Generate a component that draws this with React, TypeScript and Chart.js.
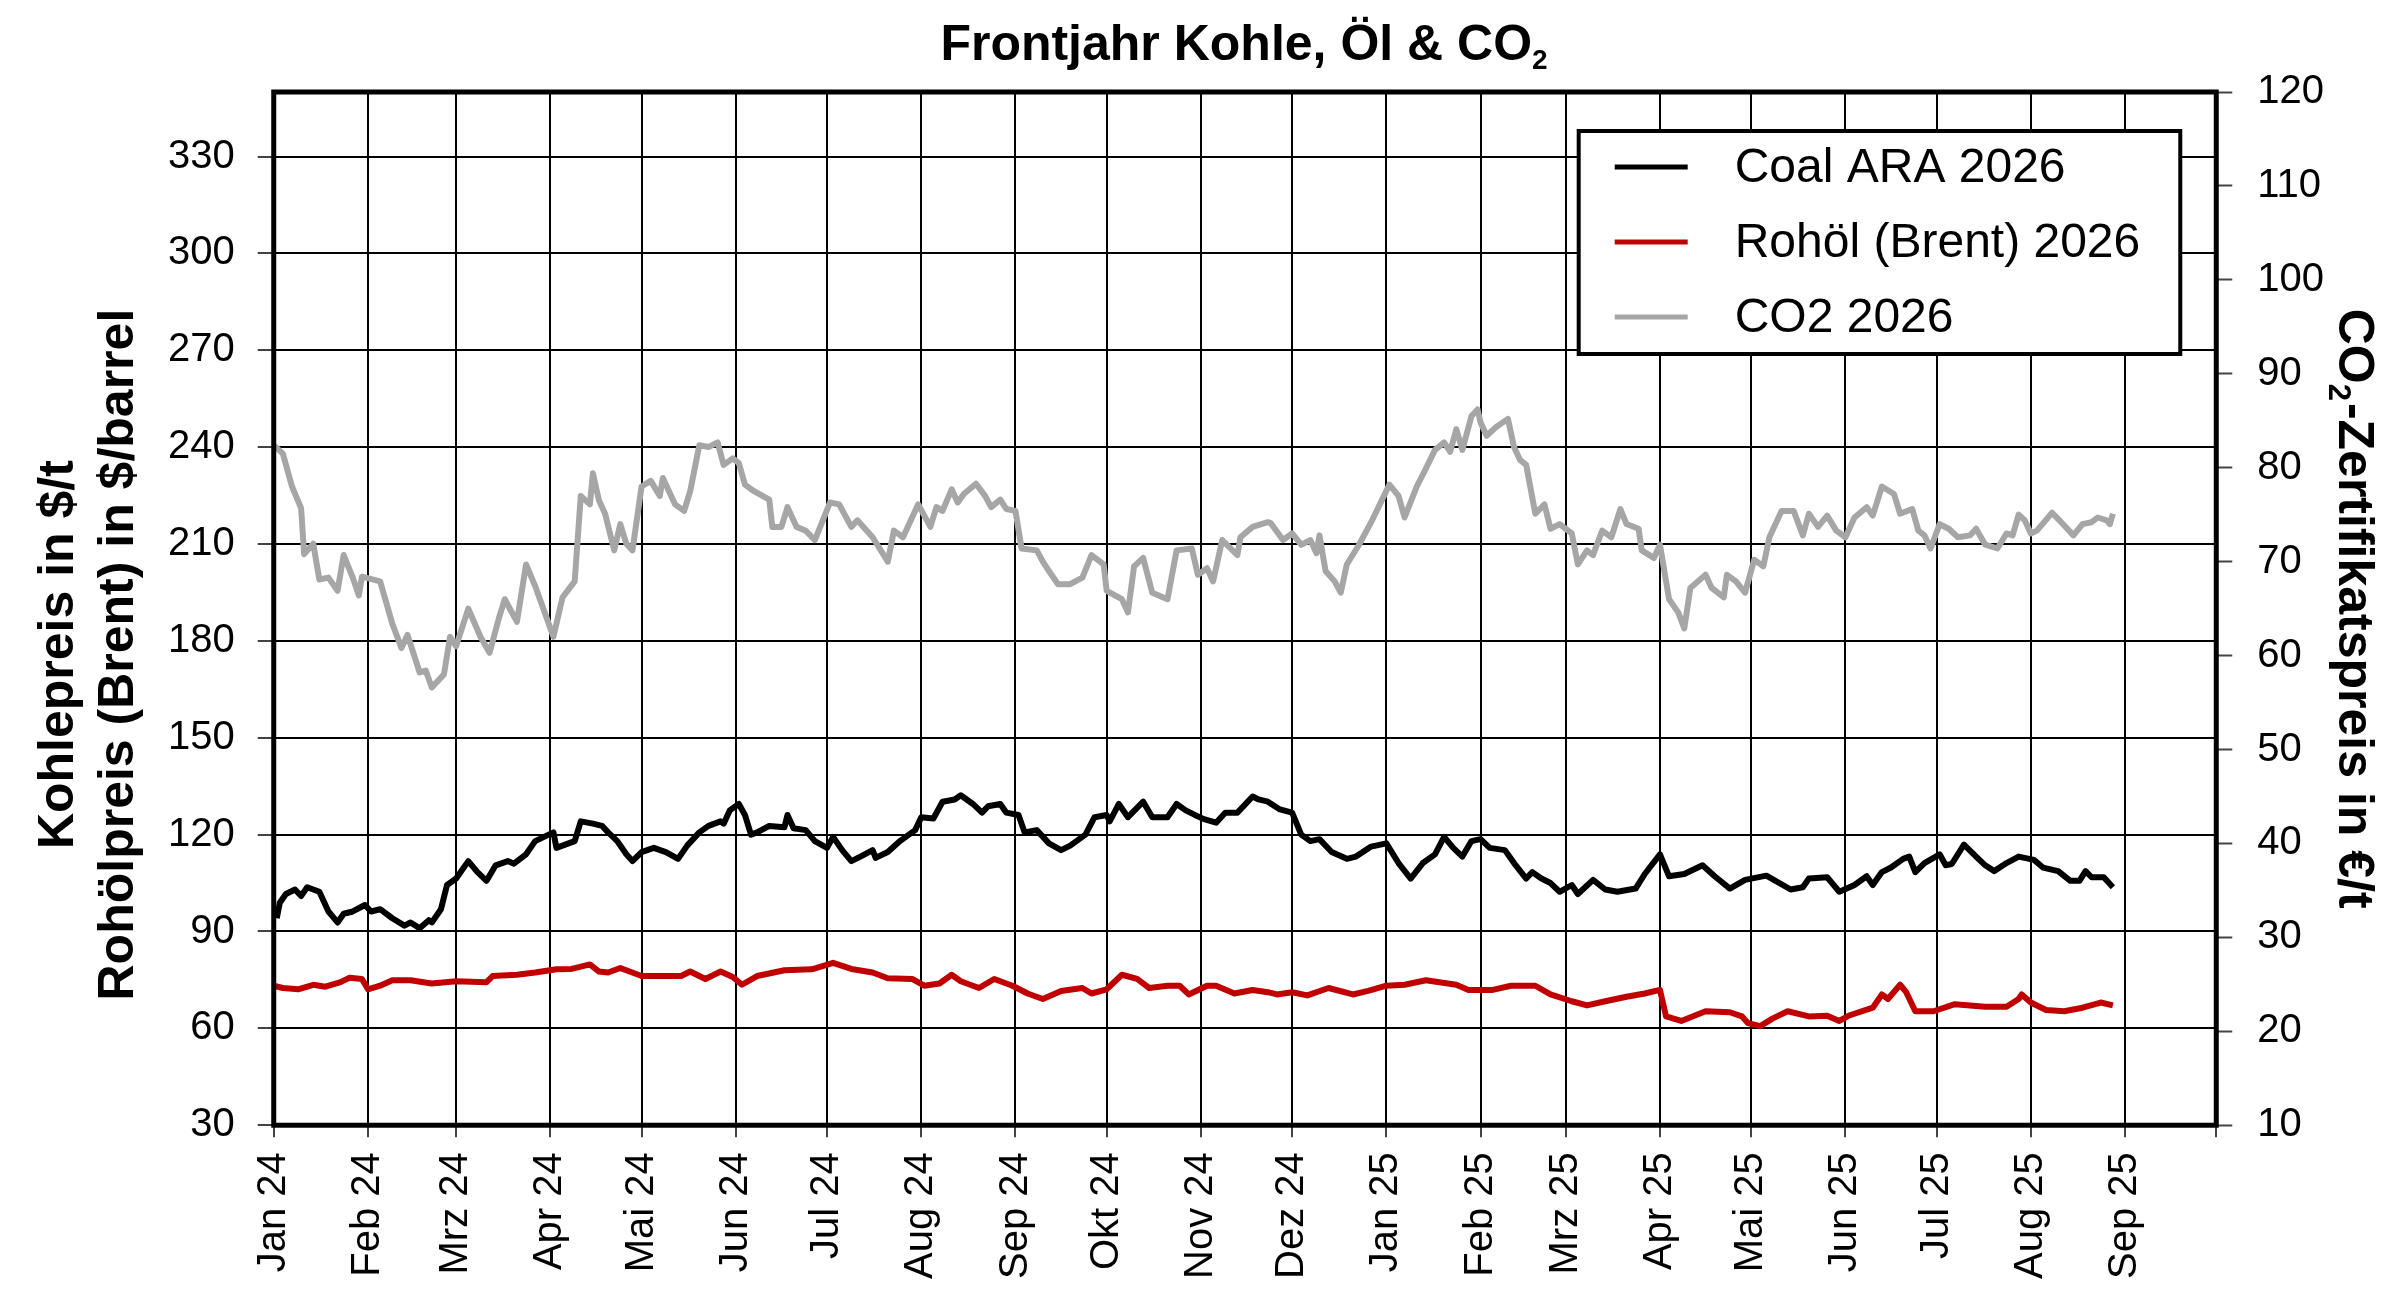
import React, { useEffect, useRef } from 'react';
import { Chart, registerables } from 'chart.js';

Chart.register(...registerables);

const FONT = '"Liberation Sans", Arial, Helvetica, sans-serif';
Chart.defaults.font.family = FONT;
Chart.defaults.color = '#000';

const chartTitle = ['Frontjahr Kohle, Öl & CO', '2'];
const leftTitle = ['Kohlepreis in $/t', 'Rohölpreis (Brent) in $/barrel'];
const rightTitle = ['CO', '2', '-Zertifikatspreis in €/t'];

// x values are days counted from 1 Jan 2024
const monthStarts = [0, 31, 60, 91, 121, 152, 182, 213, 244, 274, 305, 335, 366, 397, 425, 456, 486, 517, 547, 578, 609, 639];
const monthLabels = [
  'Jan 24', 'Feb 24', 'Mrz 24', 'Apr 24', 'Mai 24', 'Jun 24', 'Jul 24', 'Aug 24', 'Sep 24', 'Okt 24', 'Nov 24', 'Dez 24',
  'Jan 25', 'Feb 25', 'Mrz 25', 'Apr 25', 'Mai 25', 'Jun 25', 'Jul 25', 'Aug 25', 'Sep 25', '',
];
const leftTicks = [30, 60, 90, 120, 150, 180, 210, 240, 270, 300, 330];
const rightTicks = [10, 20, 30, 40, 50, 60, 70, 80, 90, 100, 110, 120];

// Coal ARA 2026, $/t
const coal: [number, number][] = [
  [1, 94.1], [2, 98.9], [4, 101.6], [7, 103], [9, 101], [11, 103.7], [15, 102.3], [18, 96.2], [21, 92.8], [23, 95.5],
  [26, 96.2], [30, 98.2], [32, 96.2], [35, 96.9], [39, 94.1], [43, 91.8], [45, 92.8], [48, 91], [51, 93.5], [52, 92.8],
  [55, 96.9], [57, 104.4], [60, 106.4], [64, 111.8], [67, 108.4], [70, 105.7], [73, 110.5], [77, 111.8], [79, 111], [83, 113.9],
  [86, 118], [92, 120.7], [93, 115.9], [99, 118], [101, 124.1], [105, 123.4], [108, 122.7], [110, 120.7], [113, 118], [116, 113.9],
  [118, 111.8], [121, 114.6], [125, 115.9], [129, 114.6], [133, 112.5], [136, 116.6], [140, 120.7], [143, 122.7], [147, 124.1], [148, 123.4],
  [150, 127.5], [153, 129.5], [155, 126.1], [157, 120], [159, 120.7], [163, 122.7], [168, 122.3], [169, 126.1], [171, 122], [175, 121.4],
  [178, 118], [182, 115.9], [184, 119.3], [187, 115.2], [190, 111.8], [193, 113.2], [197, 115.2], [198, 112.8], [202, 114.6], [206, 118],
  [211, 121.4], [213, 125.4], [217, 125], [220, 130.2], [224, 130.9], [226, 132.2], [230, 129.5], [233, 126.8], [235, 128.8], [239, 129.5],
  [241, 126.8], [245, 126.1], [247, 120.7], [251, 121.4], [255, 117.3], [259, 115.2], [262, 116.6], [267, 120], [270, 125.4], [274, 126.1],
  [275, 124.1], [278, 129.5], [281, 125.4], [286, 130.2], [289, 125.4], [294, 125.4], [297, 129.5], [300, 127.5], [303, 126.1], [306, 124.8],
  [310, 123.7], [313, 126.8], [317, 126.8], [322, 131.8], [324, 130.9], [327, 130.2], [331, 127.8], [335, 126.8], [338, 120], [341, 118],
  [344, 118.6], [348, 114.6], [353, 112.5], [356, 113.2], [361, 116.3], [366, 117.3], [370, 111.2], [374, 106.4], [378, 111.2], [382, 113.9],
  [385, 119.3], [388, 115.9], [391, 113.2], [394, 118], [397, 118.6], [400, 115.9], [405, 115.2], [408, 111.2], [412, 106.4], [414, 108.4],
  [417, 106.4], [420, 105], [423, 102.3], [427, 104.4], [429, 101.6], [434, 106], [438, 103], [442, 102.3], [448, 103.3], [451, 107.8],
  [456, 113.9], [459, 107.1], [464, 107.8], [470, 110.5], [474, 107.1], [479, 103.3], [484, 106], [491, 107.3], [499, 103], [503, 103.7],
  [505, 106.4], [511, 106.8], [515, 102.3], [520, 104.4], [524, 107.1], [526, 104.4], [529, 108.4], [532, 109.8], [536, 112.5], [538, 113.2],
  [540, 108.4], [543, 111.2], [548, 113.9], [550, 110.5], [552, 110.9], [556, 116.9], [560, 113.2], [563, 110.5], [566, 108.7], [570, 111.2],
  [574, 113.2], [579, 112.2], [582, 109.8], [587, 108.7], [591, 105.7], [594, 105.7], [596, 108.7], [598, 106.8], [602, 106.8], [605, 103.7],
];

// Rohöl (Brent) 2026, $/barrel
const brent: [number, number][] = [
  [0, 73.2], [3, 72.5], [8, 72.1], [13, 73.5], [17, 72.9], [22, 74.3], [25, 75.7], [29, 75.3], [31, 72.1], [35, 73.2],
  [39, 74.9], [45, 74.9], [52, 73.9], [60, 74.6], [70, 74.3], [72, 76.2], [80, 76.6], [86, 77.3], [93, 78.3], [98, 78.4],
  [104, 79.8], [107, 77.6], [110, 77.3], [114, 78.7], [121, 76.2], [134, 76.2], [137, 77.6], [142, 75.3], [147, 77.6], [151, 75.9],
  [154, 73.5], [159, 76.2], [168, 78], [177, 78.3], [184, 80.3], [190, 78.4], [197, 77.3], [202, 75.5], [210, 75.3], [214, 73.2],
  [219, 73.9], [223, 76.6], [226, 74.6], [232, 72.5], [237, 75.3], [243, 73.2], [248, 70.8], [253, 69.1], [259, 71.6], [266, 72.5],
  [269, 70.8], [274, 72.1], [279, 76.6], [284, 75.3], [288, 72.5], [294, 73.2], [298, 73.2], [301, 70.5], [307, 73.2], [310, 73.2],
  [316, 70.8], [322, 71.9], [327, 71.2], [330, 70.5], [335, 71.2], [340, 70.2], [347, 72.5], [355, 70.5], [360, 71.6], [366, 73.2],
  [372, 73.5], [379, 74.9], [389, 73.5], [393, 71.9], [401, 71.9], [407, 73.2], [415, 73.2], [420, 70.5], [427, 68.4], [432, 67.1],
  [438, 68.4], [445, 69.8], [451, 70.8], [456, 71.9], [458, 63.7], [463, 62.3], [471, 65.3], [479, 65], [483, 63.7], [485, 61.6],
  [489, 60.7], [493, 63], [498, 65.3], [505, 63.7], [511, 63.9], [515, 62.3], [518, 63.9], [526, 66.4], [529, 70.5], [531, 69.1],
  [535, 73.5], [537, 71.2], [540, 65.3], [546, 65.3], [553, 67.5], [558, 67.1], [563, 66.7], [570, 66.7], [574, 69.1], [575, 70.5],
  [578, 68], [583, 65.7], [589, 65.3], [595, 66.4], [601, 68], [605, 67.1],
];

// CO2 2026, €/t
const co2: [number, number][] = [
  [0, 82.4], [3, 81.5], [6, 78.0], [9, 75.7], [10, 70.8], [13, 71.9], [15, 68.1], [18, 68.3], [21, 66.9], [23, 70.7],
  [26, 68.3], [28, 66.4], [29, 68.4], [35, 67.9], [39, 63.4], [42, 60.8], [44, 62.2], [48, 58.2], [50, 58.4], [52, 56.6],
  [56, 58.0], [58, 62.0], [60, 61.0], [64, 65.0], [68, 62.0], [71, 60.3], [74, 63.9], [76, 66.0], [80, 63.6], [83, 69.7],
  [86, 67.4], [92, 62.0], [95, 66.2], [99, 67.9], [101, 77.0], [104, 76.1], [105, 79.4], [107, 76.5], [109, 75.1], [112, 71.2],
  [114, 74.0], [116, 71.9], [118, 71.2], [121, 78.0], [124, 78.6], [127, 77.0], [128, 78.9], [132, 76.1], [135, 75.4], [137, 77.5],
  [140, 82.4], [143, 82.2], [146, 82.7], [148, 80.3], [151, 81.0], [153, 80.5], [155, 78.2], [158, 77.5], [163, 76.6], [164, 73.7],
  [167, 73.7], [169, 75.8], [172, 73.7], [175, 73.3], [178, 72.3], [183, 76.3], [186, 76.1], [190, 73.7], [192, 74.4], [197, 72.6],
  [202, 70.0], [204, 73.3], [207, 72.6], [212, 76.1], [216, 73.7], [218, 75.8], [220, 75.4], [223, 77.7], [225, 76.3], [227, 77.2],
  [231, 78.3], [234, 77.0], [236, 75.8], [239, 76.6], [241, 75.6], [244, 75.4], [246, 71.4], [251, 71.2], [253, 70.0], [255, 69.0],
  [258, 67.6], [262, 67.6], [266, 68.3], [269, 70.7], [273, 69.7], [274, 66.9], [279, 66.0], [281, 64.6], [283, 69.5], [286, 70.4],
  [289, 66.7], [294, 66.0], [297, 71.2], [302, 71.4], [304, 68.6], [307, 69.3], [309, 67.9], [312, 72.3], [317, 70.7], [318, 72.6],
  [322, 73.7], [327, 74.2], [328, 74.1], [332, 72.3], [335, 73.0], [338, 71.8], [341, 72.3], [343, 70.9], [344, 72.8], [346, 69.0],
  [349, 67.9], [351, 66.7], [353, 69.7], [357, 71.8], [361, 74.2], [367, 78.2], [370, 77.0], [372, 74.7], [376, 78.0], [379, 79.9],
  [382, 81.9], [385, 82.7], [387, 81.7], [389, 84.1], [391, 81.9], [394, 85.5], [396, 86.2], [397, 84.8], [399, 83.4], [402, 84.3],
  [406, 85.2], [408, 82.2], [410, 80.8], [412, 80.3], [415, 75.1], [418, 76.1], [420, 73.5], [423, 74.0], [427, 73.0], [429, 69.7],
  [432, 71.2], [434, 70.7], [437, 73.3], [440, 72.6], [443, 75.6], [445, 74.0], [449, 73.5], [450, 71.2], [454, 70.4], [456, 71.8],
  [459, 66.0], [462, 64.6], [464, 62.9], [466, 67.2], [471, 68.6], [473, 67.2], [477, 66.2], [478, 68.6], [481, 67.9], [484, 66.7],
  [487, 70.2], [490, 69.5], [492, 72.6], [496, 75.4], [500, 75.4], [503, 72.8], [505, 75.1], [508, 73.7], [511, 74.9], [514, 73.3],
  [517, 72.6], [520, 74.7], [524, 75.8], [526, 74.9], [529, 78.0], [533, 77.2], [535, 75.1], [539, 75.6], [541, 73.3], [543, 72.8],
  [545, 71.4], [548, 74.0], [551, 73.5], [554, 72.6], [558, 72.8], [560, 73.5], [563, 71.8], [567, 71.4], [570, 73.0], [572, 72.8],
  [574, 75.0], [576, 74.4], [578, 73.0], [580, 73.3], [585, 75.2], [588, 74.2], [592, 72.8], [595, 74.0], [598, 74.2], [600, 74.7],
  [603, 74.4], [604, 74.0], [605, 75.1],
];

const toPoints = (s: [number, number][]) => s.map(([x, y]) => ({ x, y }));

// text with a subscript part: [normal, sub, normal]
function drawSubText(ctx: CanvasRenderingContext2D, parts: string[], x: number, y: number, size: number, subSize: number, subDrop: number) {
  const big = `bold ${size}px ${FONT}`;
  const small = `bold ${subSize}px ${FONT}`;
  const widths = parts.map((p, i) => {
    ctx.font = i === 1 ? small : big;
    return ctx.measureText(p).width;
  });
  const total = widths.reduce((a, b) => a + b, 0) + 2;
  let cx = x - total / 2;
  parts.forEach((p, i) => {
    ctx.font = i === 1 ? small : big;
    ctx.fillText(p, cx, i === 1 ? y + subDrop : y);
    cx += widths[i] + (i === 1 ? 2 : 0);
  });
}

// frame, chart title and both axis titles
const framePlugin = {
  id: 'frame',
  afterDraw(chart: any) {
    const { ctx, chartArea } = chart;
    const midY = (chartArea.top + chartArea.bottom) / 2;
    ctx.save();
    ctx.lineWidth = 5;
    ctx.strokeStyle = '#000';
    ctx.strokeRect(chartArea.left, chartArea.top, chartArea.right - chartArea.left, chartArea.bottom - chartArea.top);

    ctx.fillStyle = '#000';
    ctx.textBaseline = 'alphabetic';
    ctx.textAlign = 'left';
    drawSubText(ctx, chartTitle, (chartArea.left + chartArea.right) / 2, 60, 50, 28, 9);

    // left axis title, two lines
    ctx.save();
    ctx.translate(0, midY + 46);
    ctx.rotate(-Math.PI / 2);
    ctx.font = `bold 50px ${FONT}`;
    ctx.textAlign = 'center';
    ctx.textBaseline = 'middle';
    ctx.fillText(leftTitle[0], 0, 59);
    ctx.fillText(leftTitle[1], 0, 119);
    ctx.restore();

    ctx.translate(chart.width - 43, midY);
    ctx.rotate(Math.PI / 2);
    drawSubText(ctx, rightTitle, 0, 18, 50, 31, 10);
    ctx.restore();
  },
};

const legendPlugin = {
  id: 'legendBox',
  afterDraw(chart: any) {
    const { ctx, chartArea } = chart;
    const sets = chart.data.datasets;
    ctx.save();
    ctx.font = `48px ${FONT}`;
    const textW = Math.max(...sets.map((d: any) => ctx.measureText(d.label).width));
    const w = 156 + textW + 40;
    const h = 223;
    const x0 = chartArea.right - 36 - w;
    const y0 = chartArea.top + 39;
    ctx.fillStyle = '#fff';
    ctx.fillRect(x0, y0, w, h);
    ctx.lineWidth = 4;
    ctx.strokeStyle = '#000';
    ctx.strokeRect(x0, y0, w, h);
    sets.forEach((d: any, i: number) => {
      const cy = y0 + 36 + i * 75;
      ctx.strokeStyle = d.borderColor;
      ctx.lineWidth = 5;
      ctx.beginPath();
      ctx.moveTo(x0 + 36, cy);
      ctx.lineTo(x0 + 109, cy);
      ctx.stroke();
      ctx.fillStyle = '#000';
      ctx.textBaseline = 'middle';
      ctx.textAlign = 'left';
      ctx.fillText(d.label, x0 + 156, cy + 2);
    });
    ctx.restore();
  },
};

const App: React.FC = () => {
  const canvasRef = useRef<HTMLCanvasElement | null>(null);
  const chartRef = useRef<Chart | null>(null);

  useEffect(() => {
    const ctx = canvasRef.current?.getContext('2d');
    if (!ctx) return;

    chartRef.current = new Chart(ctx, {
      type: 'line',
      data: {
        datasets: [
          {
            label: 'Coal ARA 2026',
            data: toPoints(coal),
            borderColor: '#000000',
            borderWidth: 6,
            pointRadius: 0,
            yAxisID: 'y',
          },
          {
            label: 'Rohöl (Brent) 2026',
            data: toPoints(brent),
            borderColor: '#C00000',
            borderWidth: 6,
            pointRadius: 0,
            yAxisID: 'y',
          },
          {
            label: 'CO2 2026',
            data: toPoints(co2),
            borderColor: '#A6A6A6',
            borderWidth: 6,
            pointRadius: 0,
            yAxisID: 'y1',
          },
        ],
      },
      options: {
        animation: false,
        responsive: true,
        maintainAspectRatio: false,
        layout: { padding: { top: 92, right: 51, bottom: 5, left: 145 } },
        elements: { line: { tension: 0, borderJoinStyle: 'round' } },
        plugins: {
          legend: { display: false },
          title: { display: false },
          tooltip: { enabled: false },
        },
        scales: {
          x: {
            type: 'linear',
            min: 0,
            max: 639,
            afterBuildTicks: (scale: any) => {
              scale.ticks = monthStarts.map((v) => ({ value: v }));
            },
            grid: { color: '#000', lineWidth: 2, tickLength: 12, tickColor: '#444', tickWidth: 2 },
            border: { display: false },
            ticks: {
              autoSkip: false,
              minRotation: 90,
              maxRotation: 90,
              padding: 15,
              color: '#000',
              font: { size: 40 },
              callback: (_v: any, i: number) => monthLabels[i] ?? '',
            },
          },
          y: {
            type: 'linear',
            position: 'left',
            min: 30,
            max: 350,
            afterBuildTicks: (scale: any) => {
              scale.ticks = leftTicks.map((v) => ({ value: v }));
            },
            grid: { color: '#000', lineWidth: 2, tickLength: 16, tickColor: '#444', tickWidth: 2 },
            border: { display: false },
            ticks: { padding: 23, color: '#000', font: { size: 40 } },
          },
          y1: {
            type: 'linear',
            position: 'right',
            min: 10,
            max: 120,
            afterBuildTicks: (scale: any) => {
              scale.ticks = rightTicks.map((v) => ({ value: v }));
            },
            grid: { drawOnChartArea: false, tickLength: 16, tickColor: '#444', tickWidth: 2 },
            border: { display: false },
            ticks: { padding: 25, color: '#000', font: { size: 40 } },
          },
        },
      },
      plugins: [framePlugin, legendPlugin],
    });

    return () => {
      if (chartRef.current) chartRef.current.destroy();
    };
  }, []);

  return (
    <div style={{ position: 'fixed', left: 0, top: 0, width: 2400, height: 1299, background: '#fff' }}>
      <canvas ref={canvasRef}></canvas>
    </div>
  );
};

export default App;
